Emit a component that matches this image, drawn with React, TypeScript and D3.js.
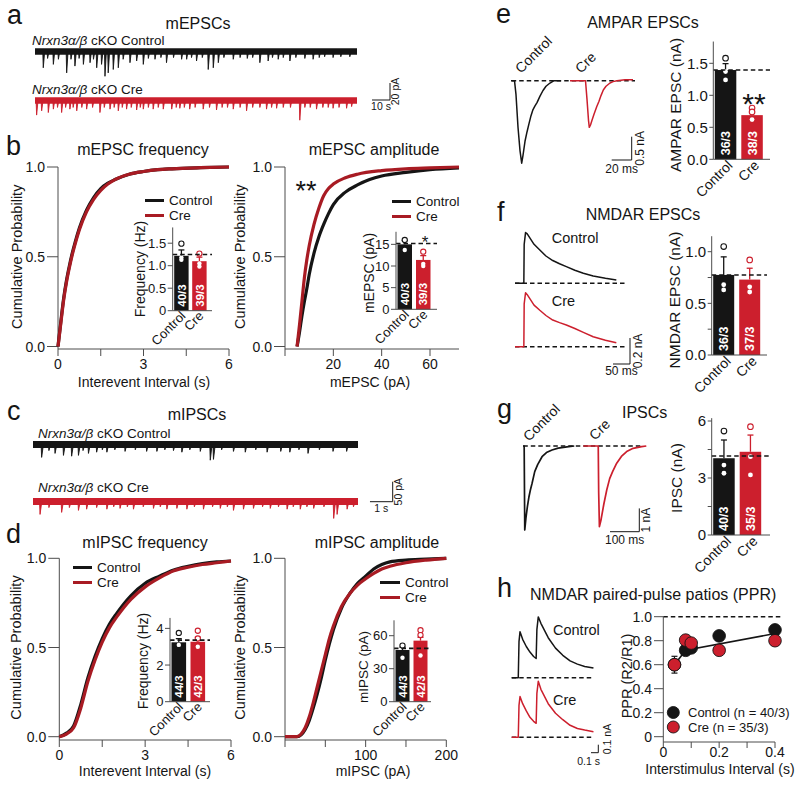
import React from 'react';
import * as d3 from 'd3';

type Pt = [number, number];

const FONT = '"Liberation Sans", Arial, Helvetica, sans-serif';
const INK = '#151515';
const RED = '#cc1f2d';
const CDF_RED = '#a81b23';
const AXIS = '#4d4d4d';

// ================= DATA =================
const groups = ['Control', 'Cre'];

// (a) mEPSC traces: [time (s), event amplitude below noise band (pA)]
const mepscDuration = 179;
const mepscNoise = 7.5;
const mepscCtrlEvents: Pt[] = [
  [4.6, 16], [7, 5], [10.2, 12], [13, 6], [17.6, 22], [20, 6], [22.2, 14], [24.5, 5], [26.9, 12], [30.6, 10],
  [32.5, 6], [34.3, 16], [37, 12], [38.9, 26], [40.7, 22], [43.5, 18], [46.3, 16], [49, 6], [52.8, 10], [56.5, 8],
  [60.2, 12], [63, 5], [66.7, 6], [70, 4], [73.1, 10], [77, 4], [81.5, 6], [84.3, 6], [87, 4], [89.8, 8],
  [93, 4], [96.3, 18], [99.1, 16], [101.9, 10], [105, 4], [110.2, 6], [114, 4], [118, 5], [121, 4], [125, 10],
  [129.6, 8], [132, 4], [135.2, 6], [138, 4], [141.7, 8], [145, 4], [150, 5], [154.6, 6], [158, 4], [161, 3],
  [165.7, 4], [170, 3], [175, 3],
];
const mepscCreEvents: Pt[] = [
  [0.9, 14], [3.7, 9], [7.4, 11], [10.2, 7], [12.5, 5], [14.8, 11], [17, 5], [19.4, 7], [21.2, 5], [23.2, 9],
  [26, 5], [28.7, 7], [32, 5], [36.1, 11], [38.5, 5], [41.7, 7], [44, 5], [46.3, 9], [48.5, 5], [50.9, 7],
  [53.5, 5], [56.5, 8], [58.5, 5], [60.2, 7], [63, 5], [65.7, 7], [68.5, 5], [71.3, 7], [76, 7], [78.5, 5],
  [80.5, 6], [83, 5], [86, 7], [89, 5], [93.5, 7], [97, 5], [100.9, 8], [104, 5], [107, 5], [110.2, 7],
  [114, 5], [117.6, 9], [121, 5], [125, 5], [128.7, 7], [131.5, 5], [134.3, 6], [138, 5], [142, 5], [147.2, 20],
  [150, 5], [153, 5], [156.5, 7], [160, 5], [163, 5], [165.7, 6], [169, 5], [173.2, 6], [176, 4],
];
const mepscScaleBar: Pt = [10, 20]; // s, pA

// (b) cumulative distributions
const epscFreqCtrl: Pt[] = [
  [0, 0], [0.1, 0.14], [0.2, 0.27], [0.3, 0.37], [0.4, 0.45], [0.5, 0.52], [0.6, 0.58], [0.75, 0.66], [1, 0.76],
  [1.25, 0.83], [1.5, 0.88], [1.75, 0.91], [2, 0.93], [2.5, 0.96], [3, 0.975], [3.5, 0.985], [4, 0.99], [5, 0.996], [6, 1],
];
const epscFreqCre: Pt[] = [
  [0, 0], [0.1, 0.13], [0.2, 0.26], [0.3, 0.36], [0.4, 0.44], [0.5, 0.51], [0.6, 0.57], [0.75, 0.65], [1, 0.75],
  [1.25, 0.82], [1.5, 0.87], [1.75, 0.905], [2, 0.93], [2.5, 0.96], [3, 0.975], [3.5, 0.985], [4, 0.99], [5, 0.996], [6, 1],
];
const epscAmpCtrl: Pt[] = [
  [5, 0], [6, 0.08], [7, 0.17], [8, 0.25], [9, 0.32], [10, 0.4], [12, 0.52], [14, 0.61], [16, 0.68], [18, 0.74],
  [20, 0.79], [25, 0.86], [30, 0.9], [35, 0.93], [40, 0.95], [50, 0.97], [60, 0.985], [72, 0.995],
];
const epscAmpCre: Pt[] = [
  [5, 0], [6, 0.12], [7, 0.25], [8, 0.38], [9, 0.48], [10, 0.56], [12, 0.68], [14, 0.77], [16, 0.84], [18, 0.88],
  [20, 0.905], [25, 0.94], [30, 0.96], [40, 0.98], [50, 0.99], [60, 0.995], [72, 1],
];

// (b) insets
const bFreqMeans = [1.22, 1.1];
const bFreqErr = [0.13, 0.09];
const bFreqRef = 1.25;
const bFreqPts = [[1.49, 1.18, 1.13], [1.27, 1.05, 0.98]];
const bFreqN = ['40/3', '39/3'];
const bFreqTicks = [0, 0.5, 1, 1.5];
const bFreqTickLabels = ['0', '0.5', '1.0', '1.5'];

const bAmpMeans = [15.0, 11.4];
const bAmpErr = [0.9, 1.0];
const bAmpRef = 15.2;
const bAmpPts = [[16.0, 13.7], [13.3, 10.5, 10.0]];
const bAmpN = ['40/3', '39/3'];
const bAmpTicks = [0, 5, 10, 15];
const bAmpTickLabels = ['0', '5', '10', '15'];

// (c) mIPSC traces
const mipscDuration = 14.3;
const mipscNoise = 17;
const mipscCtrlEvents: Pt[] = [
  [0.38, 25], [0.7, 8], [0.97, 15], [1.34, 20], [1.7, 22], [2.0, 20], [2.2, 8], [2.44, 15], [2.8, 12], [3.05, 6],
  [3.25, 12], [3.6, 6], [4.05, 10], [4.5, 6], [5.0, 10], [5.45, 10], [5.8, 6], [6.18, 8], [6.55, 12], [6.9, 6],
  [7.36, 10], [7.8, 32], [7.94, 30], [8.3, 6], [8.82, 10], [9.34, 12], [9.8, 6], [10.3, 12], [10.9, 10], [11.3, 12],
  [11.7, 6], [12.1, 15], [12.6, 6], [13.2, 10], [13.8, 10],
];
const mipscCreEvents: Pt[] = [
  [0.31, 25], [0.7, 8], [1.26, 20], [1.6, 8], [2.0, 15], [2.36, 12], [2.8, 8], [3.25, 12], [3.55, 6], [3.83, 10],
  [4.15, 6], [4.42, 12], [4.85, 6], [5.3, 10], [5.6, 6], [5.89, 12], [6.33, 10], [6.77, 12], [7.1, 6], [7.5, 12],
  [7.9, 6], [8.24, 10], [8.55, 6], [8.82, 15], [9.26, 12], [9.7, 10], [10.1, 6], [10.44, 10], [10.8, 6], [11.18, 12],
  [11.45, 6], [11.76, 12], [12.05, 6], [12.35, 10], [12.8, 6], [13.23, 35], [13.38, 25], [13.82, 12], [14.1, 6],
];
const mipscScaleBar: Pt = [1, 50];

// (d) cumulative distributions
const ipscFreqCtrl: Pt[] = [
  [0, 0], [0.25, 0.02], [0.5, 0.06], [0.75, 0.18], [1.0, 0.33], [1.25, 0.45], [1.5, 0.55], [1.75, 0.63], [2, 0.69],
  [2.5, 0.79], [3, 0.86], [3.5, 0.9], [4, 0.935], [4.5, 0.955], [5, 0.97], [5.5, 0.98], [6, 0.985],
];
const ipscFreqCre: Pt[] = [
  [0, 0], [0.25, 0.015], [0.5, 0.05], [0.75, 0.16], [1.0, 0.31], [1.25, 0.43], [1.5, 0.53], [1.75, 0.61], [2, 0.67],
  [2.5, 0.77], [3, 0.84], [3.5, 0.89], [4, 0.93], [4.5, 0.95], [5, 0.965], [5.5, 0.975], [6, 0.985],
];
const ipscAmpCtrl: Pt[] = [
  [0, 0], [15, 0], [20, 0.01], [25, 0.04], [30, 0.09], [35, 0.16], [40, 0.24], [45, 0.33], [50, 0.43], [55, 0.52],
  [60, 0.6], [70, 0.72], [80, 0.8], [90, 0.86], [100, 0.9], [110, 0.94], [120, 0.965], [130, 0.98], [150, 0.99], [175, 0.995], [200, 1],
];
const ipscAmpCre: Pt[] = [
  [0, 0], [15, 0], [20, 0.015], [25, 0.05], [30, 0.11], [35, 0.19], [40, 0.28], [45, 0.37], [50, 0.46], [55, 0.55],
  [60, 0.62], [70, 0.73], [80, 0.8], [90, 0.85], [100, 0.885], [110, 0.915], [120, 0.94], [130, 0.955], [150, 0.975], [175, 0.99], [200, 1],
];

// (d) insets
const dFreqMeans = [3.24, 3.27];
const dFreqErr = [0.2, 0.25];
const dFreqRef = 3.36;
const dFreqPts = [[3.75, 3.1], [3.87, 3.45, 3.0]];
const dFreqN = ['44/3', '42/3'];
const dFreqTicks = [0, 2, 4];
const dFreqTickLabels = ['0', '2', '4'];

const dAmpMeans = [47, 55.5];
const dAmpErr = [2.5, 3];
const dAmpRef = 48.5;
const dAmpPts = [[51, 40], [65, 60.6, 42]];
const dAmpN = ['44/3', '42/3'];
const dAmpTicks = [0, 30, 60];
const dAmpTickLabels = ['0', '30', '60'];

// (e) AMPAR EPSCs: [time (ms), current (nA)]
const ampaCtrlTrace: Pt[] = [
  [0, 0], [3.5, 0], [5, -0.3], [7, -1.0], [9, -1.5], [10.7, -1.77], [12, -1.6], [14, -1.3], [16, -1.1], [18, -0.92],
  [20, -0.75], [22, -0.62], [24, -0.54], [26, -0.47], [29, -0.33], [32, -0.21], [35, -0.12], [39, -0.05], [43, 0], [50, 0],
];
const ampaCreTrace: Pt[] = [
  [0, 0], [15.5, 0], [17, -0.4], [18.5, -0.85], [19.3, -1.0], [20.5, -0.95], [22, -0.85], [24, -0.72], [26.7, -0.56],
  [29, -0.44], [31, -0.32], [33.3, -0.2], [36, -0.12], [40, -0.05], [43, -0.02], [47, 0], [55, 0.02], [63, 0.02],
];
const eMeans = [1.395, 0.69];
const eErr = [0.1, 0.05];
const eRef = 1.395;
const ePts = [[1.58, 1.37, 1.24], [0.8, 0.74, 0.62]];
const eN = ['36/3', '38/3'];
const eTicks = [0, 0.5, 1, 1.5];
const eTickLabels = ['0.0', '0.5', '1.0', '1.5'];

// (f) NMDAR EPSCs
const nmdaCtrlTrace: Pt[] = [
  [0, 0], [26, 0], [27, 0.3], [31, 0.39], [36, 0.38], [46, 0.34], [56, 0.3], [73, 0.256], [91, 0.21], [111, 0.175],
  [131, 0.15], [151, 0.128], [176, 0.1], [201, 0.077], [230, 0.056], [266, 0.038], [298, 0.025],
];
const nmdaCreTrace: Pt[] = [
  [0, 0], [26, 0], [27, 0.33], [31, 0.415], [36, 0.4], [46, 0.36], [56, 0.32], [73, 0.28], [91, 0.24], [111, 0.205],
  [131, 0.185], [151, 0.167], [176, 0.14], [201, 0.11], [230, 0.077], [266, 0.05], [298, 0.031],
];
const fMeans = [0.775, 0.73];
const fErr = [0.175, 0.11];
const fRef = 0.775;
const fPts = [[1.05, 0.68, 0.63], [0.92, 0.66, 0.61]];
const fN = ['36/3', '37/3'];
const fTicks = [0, 0.5, 1.0];
const fMinor = [0.25, 0.75];
const fTickLabels = ['0.0', '0.5', '1.0'];

// (g) IPSCs
const ipscCtrlTrace: Pt[] = [
  [0, 0], [4, 0], [6, -3.6], [10, -3.1], [15, -2.6], [20, -2.2], [25, -1.9], [31, -1.6], [40, -1.1], [50, -0.8],
  [65, -0.46], [80, -0.28], [99, -0.17], [120, -0.09], [156, -0.03], [175, 0],
];
const ipscCreTrace: Pt[] = [
  [0, 0], [51, 0], [52.5, -2], [55, -3.46], [60, -3.2], [70, -2.5], [80, -1.89], [90, -1.4], [100, -1.1], [114, -0.74],
  [130, -0.45], [148, -0.24], [170, -0.1], [199, -0.03], [215, 0],
];
const gMeans = [4.04, 4.38];
const gErr = [0.96, 0.88];
const gRef = 4.16;
const gPts = [[5.47, 3.68, 3.25], [5.7, 4.12, 3.16]];
const gN = ['40/3', '35/3'];
const gTicks = [0, 3, 6];
const gMinor = [1.5, 4.5];
const gTickLabels = ['0', '3', '6'];

// (h) NMDAR paired pulse: [time (s), current (nA)]
const ppCtrlTrace: Pt[] = [
  [0, 0], [0.09, 0], [0.1, 0.45], [0.114, 0.575], [0.15, 0.48], [0.2, 0.39], [0.25, 0.32], [0.3, 0.265], [0.335, 0.24],
  [0.345, 0.6], [0.364, 0.76], [0.4, 0.68], [0.5, 0.5], [0.6, 0.37], [0.7, 0.28], [0.8, 0.21], [0.9, 0.17], [1.0, 0.14], [1.12, 0.12],
];
const ppCreTrace: Pt[] = [
  [0, 0], [0.09, 0], [0.1, 0.4], [0.114, 0.51], [0.15, 0.42], [0.2, 0.33], [0.25, 0.25], [0.3, 0.2], [0.335, 0.175],
  [0.345, 0.55], [0.364, 0.7], [0.4, 0.6], [0.5, 0.42], [0.6, 0.3], [0.7, 0.22], [0.8, 0.15], [0.9, 0.11], [1.0, 0.09], [1.12, 0.07],
];
const pprIntervals = [0.04, 0.08, 0.1, 0.2, 0.4];
const pprCtrl = [0.6, 0.72, 0.74, 0.84, 0.89];
const pprCtrlErr = [0.07, 0.02, 0.02, 0.02, 0.02];
const pprCre = [0.6, 0.805, 0.78, 0.72, 0.8];
const pprCreErr = [0.03, 0.02, 0.02, 0.02, 0.02];
const pprFit: Pt[] = [[0.04, 0.6], [0.08, 0.72], [0.4, 0.86]];
const pprYTicks = [0, 0.2, 0.4, 0.6, 0.8, 1.0];
const pprYLabels = ['0', '0.2', '0.4', '0.6', '0.8', '1.0'];
const pprXTicks = [0, 0.1, 0.2, 0.3, 0.4];
const pprXLabels = [0, 0.2, 0.4];
const pprLegend = ['Control (n = 40/3)', 'Cre (n = 35/3)'];

// ================= COMPONENTS =================
function Letter({ x, y, ch }: { x: number; y: number; ch: string }) {
  return <text x={x} y={y} fontSize={27} fill={INK}>{ch}</text>;
}

function Genotype({ x, y, cond }: { x: number; y: number; cond: string }) {
  return (
    <text x={x} y={y} fontSize={13.5} fill={INK}>
      <tspan fontStyle="italic">Nrxn3α/β</tspan> cKO {cond}
    </text>
  );
}

function EventTrace({ events, duration, x0, x1, y, pxPerUnit, band, color, decay }: any) {
  const xs = d3.scaleLinear().domain([0, duration]).range([x0, x1]);
  const edge = y + (band * pxPerUnit) / 2 - 0.5;
  const ys = d3.scaleLinear().domain([0, 1]).range([edge, edge + pxPerUnit]);
  return (
    <g>
      <line x1={x0} x2={x1} y1={y} y2={y} stroke={color} strokeWidth={band * pxPerUnit} />
      {events.map(([t, a]: Pt, i: number) => {
        const x = xs(t);
        return (
          <path key={i} d={`M${x - 0.5},${y} L${x},${ys(a)} L${x + decay},${y}`} fill={color} stroke={color}
            strokeWidth={0.9} strokeLinejoin="round" />
        );
      })}
    </g>
  );
}

function ScaleBar({ x, y, w, h, tLabel, aLabel, font, tdy, adx, tdx = 0, acy }: any) {
  const cy = acy === undefined ? y - h / 2 : acy;
  return (
    <g>
      <line x1={x} x2={x} y1={y - h} y2={y} stroke={INK} strokeWidth={1} />
      <line x1={x - w} x2={x} y1={y} y2={y} stroke={INK} strokeWidth={1} />
      <text x={x - w / 2 + tdx} y={y + tdy} textAnchor="middle" fontSize={font} fill={INK}>{tLabel}</text>
      <text transform={`translate(${x + adx},${cy}) rotate(-90)`} textAnchor="middle" fontSize={font} fill={INK}>{aLabel}</text>
    </g>
  );
}

function WaveTrace({ data, x0, y0, pxX, pxY, color, width = 1.5 }: any) {
  const xs = d3.scaleLinear().domain([0, 1]).range([x0, x0 + pxX]);
  const ys = d3.scaleLinear().domain([0, 1]).range([y0, y0 - pxY]);
  const line = d3.line<Pt>().x((d) => xs(d[0])).y((d) => ys(d[1]));
  return <path d={line(data) || ''} fill="none" stroke={color} strokeWidth={width} strokeLinejoin="round" />;
}

function Dashed({ x1, x2, y, w = 1.6 }: any) {
  return <line x1={x1} x2={x2} y1={y} y2={y} stroke={INK} strokeWidth={w} strokeDasharray="4.5 3" />;
}

function CdfPlot({ left, right, top, bottom, axisY, domain, ticks, labels, series, title, titleX, titleY, xlabel, xlabelX, xlabelY, ylabelX }: any) {
  const x = d3.scaleLinear().domain(domain).range([left, right]);
  const y = d3.scaleLinear().domain([0, 1]).range([bottom, top]);
  const line = d3.line<Pt>().x((d) => x(d[0])).y((d) => y(d[1])).curve(d3.curveMonotoneX);
  return (
    <g>
      <line x1={left} x2={left} y1={top} y2={axisY} stroke={AXIS} />
      {[0, 0.5, 1].map((v) => (
        <g key={v}>
          <line x1={left - 11} x2={left} y1={y(v)} y2={y(v)} stroke={AXIS} />
          <text x={left - 13} y={y(v) + 5} textAnchor="end" fontSize={14} fill={INK}>{v.toFixed(1)}</text>
        </g>
      ))}
      <line x1={left} x2={right} y1={axisY} y2={axisY} stroke={AXIS} />
      {ticks.map((t: number) => (
        <line key={t} x1={x(t)} x2={x(t)} y1={axisY} y2={axisY + 7} stroke={AXIS} />
      ))}
      {labels.map((t: number) => (
        <text key={t} x={x(t)} y={axisY + 20} textAnchor="middle" fontSize={14} fill={INK}>{t}</text>
      ))}
      {series.map((s: any, i: number) => (
        <path key={i} d={line(s.data) || ''} fill="none" stroke={s.color} strokeWidth={3.2} />
      ))}
      <text x={titleX} y={titleY} textAnchor="middle" fontSize={16} fill={INK}>{title}</text>
      <text x={xlabelX} y={xlabelY} textAnchor="middle" fontSize={14} fill={INK}>{xlabel}</text>
      <text transform={`translate(${ylabelX},${(top + bottom) / 2}) rotate(-90)`} textAnchor="middle" fontSize={14.5} fill={INK}>
        Cumulative Probability
      </text>
    </g>
  );
}

function Legend({ x, y, gap, colors, labels, len = 19, font = 14 }: any) {
  return (
    <g>
      {labels.map((l: string, i: number) => (
        <g key={l}>
          <line x1={x} x2={x + len} y1={y + i * gap} y2={y + i * gap} stroke={colors[i]} strokeWidth={3} />
          <text x={x + len + 5} y={y + i * gap + font * 0.36} fontSize={font} fill={INK}>{l}</text>
        </g>
      ))}
    </g>
  );
}

function BarChart(p: any) {
  const { ax, y0, ppu, yMax, ticks, tickLabels, minor = [], means, errs, refVal, pts, nLabels, ylabel, ylabelX, ylabelY,
    barW, gap, tickFont, labelFont, nFont, catFont, refEnd, dotR = 2.2, tickLen = 5, catDx = 5, catDy = 6 } = p;
  const y = d3.scaleLinear().domain([0, yMax]).range([y0, y0 - yMax * ppu]);
  const x = d3.scaleBand().domain(groups).range([ax + 1.5, ax + 1.5 + 2 * barW + gap]).paddingInner(gap / (barW + gap));
  const colors = [INK, RED];
  return (
    <g>
      {groups.map((g, i) => {
        const bx = x(g) as number;
        const cx = bx + x.bandwidth() / 2;
        return (
          <g key={g}>
            <rect x={bx} y={y(means[i])} width={x.bandwidth()} height={y0 - y(means[i])} fill={colors[i]} />
            <line x1={cx} x2={cx} y1={y(means[i])} y2={y(means[i] + errs[i])} stroke={colors[i]} strokeWidth={1.3} />
            <line x1={cx - 3} x2={cx + 3} y1={y(means[i] + errs[i])} y2={y(means[i] + errs[i])} stroke={colors[i]} strokeWidth={1.3} />
            {pts[i].map((v: number, j: number) =>
              v > means[i] ? (
                <circle key={j} cx={cx} cy={y(v)} r={dotR + 0.4} fill="white" stroke={colors[i]} strokeWidth={1.1} />
              ) : (
                <circle key={j} cx={cx} cy={y(v)} r={dotR} fill="white" />
              )
            )}
            <text transform={`translate(${cx + nFont * 0.36},${y0 - 4}) rotate(-90)`} fontSize={nFont} fontWeight="bold" fill="white">
              {nLabels[i]}
            </text>
            <text transform={`translate(${cx + catDx},${y0 + catDy}) rotate(-45)`} textAnchor="end" fontSize={catFont} fill={INK}>
              {g}
            </text>
          </g>
        );
      })}
      <Dashed x1={ax} x2={refEnd} y={y(refVal)} />
      <line x1={ax} x2={ax} y1={y(yMax)} y2={y0} stroke={AXIS} />
      <line x1={ax} x2={refEnd} y1={y0} y2={y0} stroke={AXIS} />
      {ticks.map((t: number, i: number) => (
        <g key={t}>
          <line x1={ax - tickLen} x2={ax} y1={y(t)} y2={y(t)} stroke={AXIS} />
          <text x={ax - tickLen - 1.5} y={y(t) + tickFont * 0.36} textAnchor="end" fontSize={tickFont} fill={INK}>{tickLabels[i]}</text>
        </g>
      ))}
      {minor.map((t: number) => (
        <line key={t} x1={ax - tickLen} x2={ax} y1={y(t)} y2={y(t)} stroke={AXIS} />
      ))}
      <text transform={`translate(${ylabelX},${ylabelY}) rotate(-90)`} textAnchor="middle" fontSize={labelFont} fill={INK}>{ylabel}</text>
    </g>
  );
}

function PprChart() {
  const x = d3.scaleLinear().domain([0, 0.4]).range([663.3, 775]);
  const y = d3.scaleLinear().domain([0, 1]).range([736.7, 616.7]);
  const fit = d3.line<Pt>().x((d) => x(d[0])).y((d) => y(d[1]));
  const axisY = 742;
  const series = [
    { vals: pprCtrl, errs: pprCtrlErr, color: INK },
    { vals: pprCre, errs: pprCreErr, color: RED },
  ];
  return (
    <g>
      <Dashed x1={663.3} x2={781} y={y(1)} w={1.5} />
      <line x1={663.3} x2={663.3} y1={y(1)} y2={axisY} stroke={AXIS} />
      {pprYTicks.map((t, i) => (
        <g key={t}>
          <line x1={654} x2={663.3} y1={y(t)} y2={y(t)} stroke={AXIS} />
          <text x={652} y={y(t) + 5} textAnchor="end" fontSize={14} fill={INK}>{pprYLabels[i]}</text>
        </g>
      ))}
      <line x1={663.3} x2={775} y1={axisY} y2={axisY} stroke={AXIS} />
      {pprXTicks.map((t) => (
        <line key={t} x1={x(t)} x2={x(t)} y1={axisY} y2={axisY + 6} stroke={AXIS} />
      ))}
      {pprXLabels.map((t) => (
        <text key={t} x={x(t)} y={757} textAnchor="middle" fontSize={14} fill={INK}>{t}</text>
      ))}
      <text x={720} y={774} textAnchor="middle" fontSize={14} fill={INK}>Interstimulus Interval (s)</text>
      <text transform="translate(632,676) rotate(-90)" textAnchor="middle" fontSize={14.5} fill={INK}>PPR (R2/R1)</text>
      <path d={fit(pprFit) || ''} fill="none" stroke={INK} strokeWidth={1.6} />
      {series.map((s, si) => (
        <g key={si}>
          {pprIntervals.map((iv, i) => (
            <g key={i}>
              <line x1={x(iv)} x2={x(iv)} y1={y(s.vals[i] - s.errs[i])} y2={y(s.vals[i] + s.errs[i])} stroke={INK} strokeWidth={1.2} />
              <line x1={x(iv) - 3} x2={x(iv) + 3} y1={y(s.vals[i] + s.errs[i])} y2={y(s.vals[i] + s.errs[i])} stroke={INK} strokeWidth={1.2} />
              <line x1={x(iv) - 3} x2={x(iv) + 3} y1={y(s.vals[i] - s.errs[i])} y2={y(s.vals[i] - s.errs[i])} stroke={INK} strokeWidth={1.2} />
              <circle cx={x(iv)} cy={y(s.vals[i])} r={6.3} fill={s.color} stroke={INK} strokeWidth={0.9} />
            </g>
          ))}
        </g>
      ))}
      {pprLegend.map((l, i) => (
        <g key={l}>
          <circle cx={673.3} cy={712.5 + i * 14.5} r={6} fill={series[i].color} stroke={INK} strokeWidth={0.9} />
          <text x={688} y={712.5 + i * 14.5 + 4.7} fontSize={13} fill={INK}>{l}</text>
        </g>
      ))}
    </g>
  );
}

export default function App() {
  const aPxPerS = 322 / mepscDuration;
  const aPxPerPA = 0.85;
  const cPxPerS = 325 / mipscDuration;
  const cPxPerPA = 0.4;
  return (
    <div style={{ position: 'absolute', left: 0, top: 0 }}>
      <svg width={800} height={785} fontFamily={FONT} style={{ display: 'block', background: 'white' }}>
        <rect width={800} height={785} fill="white" />

        {/* ===== a ===== */}
        <Letter x={7} y={24} ch="a" />
        <text x={198} y={29} textAnchor="middle" fontSize={16} fill={INK}>mEPSCs</text>
        <Genotype x={32} y={45} cond="Control" />
        <EventTrace events={mepscCtrlEvents} duration={mepscDuration} x0={35} x1={357} y={51.5} pxPerUnit={aPxPerPA}
          band={mepscNoise} color={INK} decay={1.4} />
        <Genotype x={32} y={94} cond="Cre" />
        <EventTrace events={mepscCreEvents} duration={mepscDuration} x0={35} x1={357} y={100.5} pxPerUnit={aPxPerPA}
          band={mepscNoise} color={RED} decay={1.4} />
        <ScaleBar x={390} y={100} w={mepscScaleBar[0] * aPxPerS} h={mepscScaleBar[1] * aPxPerPA}
          tLabel={`${mepscScaleBar[0]} s`} aLabel={`${mepscScaleBar[1]} pA`} font={10.5} tdy={10} adx={9} />

        {/* ===== b ===== */}
        <Letter x={6} y={155} ch="b" />
        <CdfPlot left={58} right={229} top={167} bottom={346.5} axisY={349} domain={[0, 6]} ticks={[0, 1.5, 3, 4.5, 6]}
          labels={[0, 3, 6]} series={[{ data: epscFreqCtrl, color: INK }, { data: epscFreqCre, color: CDF_RED }]}
          title="mEPSC frequency" titleX={143} titleY={155} xlabel="Interevent Interval (s)" xlabelX={144} xlabelY={387} ylabelX={22} />
        <Legend x={145} y={200.5} gap={15} colors={[INK, CDF_RED]} labels={groups} font={13.5} />
        <BarChart ax={172.7} y0={310.7} ppu={45} yMax={1.85} ticks={bFreqTicks} tickLabels={bFreqTickLabels}
          means={bFreqMeans} errs={bFreqErr} refVal={bFreqRef} pts={bFreqPts} nLabels={bFreqN} ylabel="Frequency (Hz)"
          ylabelX={145} ylabelY={269} barW={14.4} gap={3.6} tickFont={13} labelFont={14} nFont={11.5} catFont={13} refEnd={212} />

        <CdfPlot left={285} right={459} top={167} bottom={346.5} axisY={349} domain={[0, 72]} ticks={[0, 20, 40, 60]}
          labels={[20, 40, 60]} series={[{ data: epscAmpCtrl, color: INK }, { data: epscAmpCre, color: CDF_RED }]}
          title="mEPSC amplitude" titleX={374} titleY={155} xlabel="mEPSC (pA)" xlabelX={370} xlabelY={387} ylabelX={245} />
        <text x={306} y={200} textAnchor="middle" fontSize={27} fill={INK}>**</text>
        <Legend x={392} y={201.5} gap={15} colors={[INK, CDF_RED]} labels={groups} font={13.5} />
        <BarChart ax={396} y0={309.3} ppu={4.33} yMax={17.9} ticks={bAmpTicks} tickLabels={bAmpTickLabels}
          means={bAmpMeans} errs={bAmpErr} refVal={bAmpRef} pts={bAmpPts} nLabels={bAmpN} ylabel="mEPSC  (pA)"
          ylabelX={374} ylabelY={273} barW={14.5} gap={4} tickFont={13} labelFont={14} nFont={11.5} catFont={13} refEnd={437} />
        <text x={425} y={248} textAnchor="middle" fontSize={17} fill={INK}>*</text>

        {/* ===== c ===== */}
        <Letter x={7} y={420} ch="c" />
        <text x={197} y={420} textAnchor="middle" fontSize={16} fill={INK}>mIPSCs</text>
        <Genotype x={38} y={438} cond="Control" />
        <EventTrace events={mipscCtrlEvents} duration={mipscDuration} x0={33} x1={358} y={444.5} pxPerUnit={cPxPerPA}
          band={mipscNoise} color={INK} decay={1.8} />
        <Genotype x={38} y={492} cond="Cre" />
        <EventTrace events={mipscCreEvents} duration={mipscDuration} x0={33} x1={358} y={501.5} pxPerUnit={cPxPerPA}
          band={mipscNoise} color={RED} decay={1.8} />
        <ScaleBar x={392.7} y={501.7} w={mipscScaleBar[0] * cPxPerS} h={mipscScaleBar[1] * cPxPerPA}
          tLabel={`${mipscScaleBar[0]} s`} aLabel={`${mipscScaleBar[1]} pA`} font={10.5} tdy={10} adx={9} />

        {/* ===== d ===== */}
        <Letter x={6} y={543} ch="d" />
        <CdfPlot left={59.3} right={231} top={558.3} bottom={736.7} axisY={740} domain={[0, 6]} ticks={[0, 1.5, 3, 4.5, 6]}
          labels={[0, 3, 6]} series={[{ data: ipscFreqCtrl, color: INK }, { data: ipscFreqCre, color: CDF_RED }]}
          title="mIPSC frequency" titleX={145} titleY={548} xlabel="Interevent Interval (s)" xlabelX={145} xlabelY={776} ylabelX={21} />
        <Legend x={73} y={567.5} gap={15} colors={[INK, CDF_RED]} labels={groups} font={13.5} />
        <BarChart ax={170} y0={701.7} ppu={18.33} yMax={4.57} ticks={dFreqTicks} tickLabels={dFreqTickLabels}
          means={dFreqMeans} errs={dFreqErr} refVal={dFreqRef} pts={dFreqPts} nLabels={dFreqN} ylabel="Frequency (Hz)"
          ylabelX={148} ylabelY={661} barW={14.6} gap={4.4} tickFont={13} labelFont={14} nFont={11.5} catFont={13} refEnd={210} />

        <CdfPlot left={285} right={446.3} top={558.3} bottom={736.7} axisY={740} domain={[0, 200]} ticks={[0, 50, 100, 150, 200]}
          labels={[100, 200]} series={[{ data: ipscAmpCtrl, color: INK }, { data: ipscAmpCre, color: CDF_RED }]}
          title="mIPSC amplitude" titleX={377} titleY={548} xlabel="mIPSC (pA)" xlabelX={373} xlabelY={776} ylabelX={245} />
        <Legend x={380} y={582.5} gap={15} colors={[INK, CDF_RED]} labels={groups} len={20} font={13.5} />
        <BarChart ax={394} y0={701.7} ppu={1.1} yMax={74} ticks={dAmpTicks} tickLabels={dAmpTickLabels}
          means={dAmpMeans} errs={dAmpErr} refVal={dAmpRef} pts={dAmpPts} nLabels={dAmpN} ylabel="mIPSC (pA)"
          ylabelX={368} ylabelY={667} barW={14} gap={4} tickFont={13} labelFont={13.5} nFont={11.5} catFont={13} refEnd={431} />

        {/* ===== e ===== */}
        <Letter x={496} y={23} ch="e" />
        <text x={643} y={28} textAnchor="middle" fontSize={16} fill={INK}>AMPAR EPSCs</text>
        <text transform="translate(521,74) rotate(-45)" fontSize={14} fill={INK}>Control</text>
        <text transform="translate(581,74) rotate(-45)" fontSize={14} fill={INK}>Cre</text>
        <Dashed x1={511.7} x2={635} y={80.7} />
        <WaveTrace data={ampaCtrlTrace} x0={511} y0={80.7} pxX={1} pxY={46.6} color={INK} />
        <WaveTrace data={ampaCreTrace} x0={570} y0={80.7} pxX={1} pxY={46.6} color={RED} />
        <ScaleBar x={631.7} y={160} w={20} h={0.5 * 46.6} tLabel="20 ms" aLabel="0.5 nA" font={12} tdy={13} adx={12} />
        <BarChart ax={713.3} y0={159.3} ppu={64} yMax={1.84} ticks={eTicks} tickLabels={eTickLabels}
          means={eMeans} errs={eErr} refVal={eRef} pts={ePts} nLabels={eN} ylabel="AMPAR EPSC (nA)"
          ylabelX={681} ylabelY={105} barW={21.5} gap={5} tickFont={15} labelFont={15.5} nFont={12.5} catFont={14}
          refEnd={770} dotR={2.4} tickLen={4} catDx={8} catDy={7} />
        <text x={754} y={114} textAnchor="middle" fontSize={30} fill={INK}>**</text>

        {/* ===== f ===== */}
        <Letter x={497} y={221} ch="f" />
        <text x={643} y={220} textAnchor="middle" fontSize={16} fill={INK}>NMDAR EPSCs</text>
        <Dashed x1={515} x2={625} y={283.3} />
        <WaveTrace data={nmdaCtrlTrace} x0={515} y0={283.3} pxX={0.34} pxY={130} color={INK} />
        <text x={551.7} y={243} fontSize={14.5} fill={INK}>Control</text>
        <Dashed x1={515} x2={625} y={346.7} />
        <WaveTrace data={nmdaCreTrace} x0={515} y0={346.7} pxX={0.34} pxY={130} color={RED} />
        <text x={551.7} y={306} fontSize={14.5} fill={INK}>Cre</text>
        <ScaleBar x={630} y={364} w={50 * 0.34} h={0.2 * 130} tLabel="50 ms" aLabel="0.2 nA" font={12} tdy={11} adx={12} />
        <BarChart ax={711.7} y0={355} ppu={103.3} yMax={1.15} ticks={fTicks} tickLabels={fTickLabels} minor={fMinor}
          means={fMeans} errs={fErr} refVal={fRef} pts={fPts} nLabels={fN} ylabel="NMDAR EPSC (nA)"
          ylabelX={680} ylabelY={300} barW={21} gap={5} tickFont={15} labelFont={15.5} nFont={12.5} catFont={14}
          refEnd={767} dotR={2.4} tickLen={4} catDx={8} catDy={7} />

        {/* ===== g ===== */}
        <Letter x={497} y={418} ch="g" />
        <text x={622} y={418} fontSize={16} fill={INK}>IPSCs</text>
        <text transform="translate(529,442) rotate(-45)" fontSize={14} fill={INK}>Control</text>
        <text transform="translate(595,441) rotate(-45)" fontSize={14} fill={INK}>Cre</text>
        <Dashed x1={523.3} x2={643.3} y={446} />
        <WaveTrace data={ipscCtrlTrace} x0={523} y0={446} pxX={0.293} pxY={23.3} color={INK} width={1.7} />
        <WaveTrace data={ipscCreTrace} x0={583.3} y0={446} pxX={0.293} pxY={23.3} color={RED} width={1.7} />
        <ScaleBar x={639.3} y={531.7} w={100 * 0.293} h={23.3} tLabel="100 ms" aLabel="1 nA" font={12} tdy={12} adx={11} />
        <BarChart ax={711.7} y0={535} ppu={19} yMax={6.15} ticks={gTicks} tickLabels={gTickLabels} minor={gMinor}
          means={gMeans} errs={gErr} refVal={gRef} pts={gPts} nLabels={gN} ylabel="IPSC (nA)"
          ylabelX={682} ylabelY={478} barW={21.5} gap={5} tickFont={15} labelFont={15.5} nFont={12.5} catFont={14}
          refEnd={770} dotR={2.4} tickLen={4} catDx={8} catDy={7} />

        {/* ===== h ===== */}
        <Letter x={497} y={597} ch="h" />
        <text x={530} y={600} fontSize={16} fill={INK}>NMDAR paired-pulse patios (PPR)</text>
        <Dashed x1={511.7} x2={593.3} y={677.7} />
        <WaveTrace data={ppCtrlTrace} x0={511.7} y0={677.7} pxX={73} pxY={80} color={INK} />
        <text x={553} y={635} fontSize={14.5} fill={INK}>Control</text>
        <Dashed x1={511.7} x2={593.3} y={737.3} />
        <WaveTrace data={ppCreTrace} x0={511.7} y0={737.3} pxX={73} pxY={80} color={RED} />
        <text x={553} y={705} fontSize={14.5} fill={INK}>Cre</text>
        <ScaleBar x={598.3} y={752.7} w={0.1 * 73} h={0.1 * 80} tLabel="0.1 s" aLabel="0.1 nA" font={10.5}
          tdy={12} tdx={-6} adx={13} acy={739} />
        <PprChart />
      </svg>
    </div>
  );
}
